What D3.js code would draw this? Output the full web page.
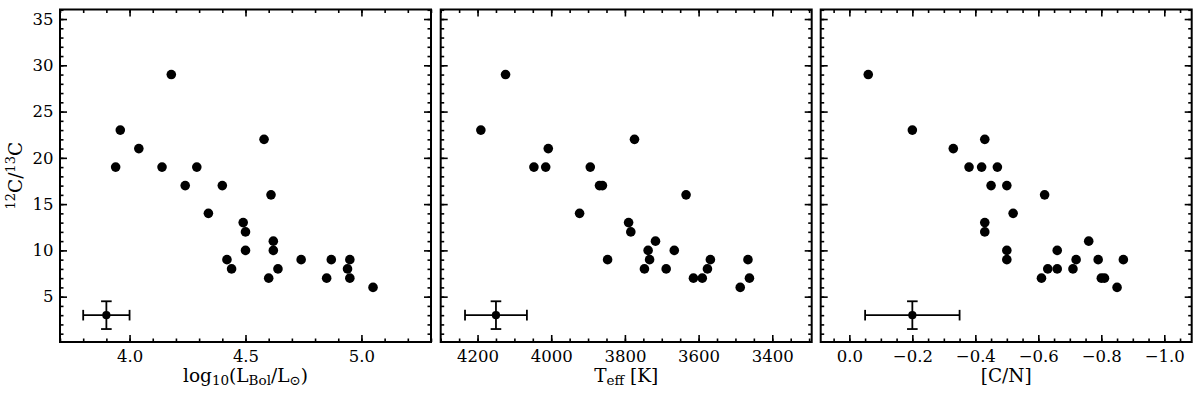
<!DOCTYPE html>
<html>
<head>
<meta charset="utf-8">
<script src="https://cdn.jsdelivr.net/npm/d3@7"></script>
<style>
body { margin: 0; background: #fff; }
text { font-family: "DejaVu Serif", serif; fill: #000; }
</style>
</head>
<body>
<svg id="chart" width="1200" height="393"></svg>
<script>
// values
const lumLog = [3.94, 3.96, 4.04, 4.14, 4.18, 4.24, 4.29, 4.34, 4.40, 4.42, 4.44, 4.49, 4.50, 4.50,
    4.58, 4.60, 4.61, 4.62, 4.62, 4.64, 4.74, 4.85, 4.87, 4.94, 4.95, 4.95, 5.05];
const lumRatio = [19, 23, 21, 19, 29, 17, 19, 14, 17, 9, 8, 13, 12, 10, 22, 7, 16, 11, 10, 8, 9, 7, 9, 8, 9, 7, 6];

const teff = [4191, 4124, 4047, 4015, 4008, 3923, 3894, 3869, 3861, 3847, 3790, 3784, 3774, 3747,
    3737, 3733, 3717, 3688, 3666, 3634, 3614, 3590, 3576, 3568, 3487, 3466, 3462];
const teffRatio = [23, 29, 19, 19, 21, 14, 19, 17, 17, 9, 13, 12, 22, 8, 10, 9, 11, 8, 10, 16, 7, 7, 8, 9, 6, 9, 7];

const cn = [-0.06, -0.20, -0.33, -0.38, -0.42, -0.43, -0.43, -0.43, -0.45, -0.47, -0.50, -0.50, -0.50, -0.52,
    -0.61, -0.62, -0.63, -0.66, -0.66, -0.71, -0.72, -0.76, -0.79, -0.80, -0.81, -0.85, -0.87];
const cnRatio = [29, 23, 21, 19, 19, 22, 13, 12, 17, 19, 17, 10, 9, 14, 7, 16, 8, 10, 8, 8, 9, 11, 9, 7, 7, 6, 9];

// typical error bar shown in each panel
const errCentre = [3.9, 4150, -0.2];
const errX = [0.1, 84, 0.15];
const errRatio = 3;
const errRatioSize = 1.5;

const yTicks = [5, 10, 15, 20, 25, 30, 35];
const lumTicks = [4.0, 4.5, 5.0];
const teffTicks = [4200, 4000, 3800, 3600, 3400];
const cnTicks = [0.0, -0.2, -0.4, -0.6, -0.8, -1.0];

const padTop = 9.5, padBottom = 342, pw = 371, ph = padBottom - padTop;
const lefts = [60, 440.7, 820.7];

const svg = d3.select("#chart");

const y = d3.scaleLinear().domain([0.1, 36.03]).range([ph, 0]);
const yMinor = d3.range(1, 37);

const panels = [
    {xs: lumLog, ys: lumRatio, domain: [3.7, 5.3], ticks: lumTicks,
     minor: d3.range(37, 54).map(d => d / 10), fmt: d3.format(".1f")},
    {xs: teff, ys: teffRatio, domain: [4300, 3293], ticks: teffTicks,
     minor: d3.range(3300, 4301, 50), fmt: d3.format("d")},
    {xs: cn, ys: cnRatio, domain: [0.091, -1.087], ticks: cnTicks,
     minor: d3.range(-21, 2).map(d => d * 0.05), fmt: d3.format(".1f")}
];

function styleAxis(g) {
    g.select(".domain").remove();
    g.selectAll(".tick line").attr("stroke", "#000").attr("stroke-width", 1.6);
    g.selectAll(".tick text").style("font-family", "DejaVu Serif").style("font-size", "16.5px").attr("fill", "#000");
}

panels.forEach((p, i) => {
    const g = svg.append("g").attr("transform", "translate(" + lefts[i] + "," + padTop + ")");
    const x = d3.scaleLinear().domain(p.domain).range([0, pw]);
    const minor = p.minor.filter(v => v >= d3.min(p.domain) && v <= d3.max(p.domain));

    // bottom
    g.append("g").attr("transform", "translate(0," + ph + ")")
        .call(d3.axisBottom(x).tickValues(minor).tickFormat("").tickSize(-3.5)).call(styleAxis);
    g.append("g").attr("transform", "translate(0," + ph + ")")
        .call(d3.axisBottom(x).tickValues(p.ticks).tickFormat(p.fmt).tickSize(-7).tickPadding(8)).call(styleAxis);
    // top
    g.append("g").call(d3.axisTop(x).tickValues(minor).tickFormat("").tickSize(-3.5)).call(styleAxis);
    g.append("g").call(d3.axisTop(x).tickValues(p.ticks).tickFormat("").tickSize(-7)).call(styleAxis);
    // left
    g.append("g").call(d3.axisLeft(y).tickValues(yMinor).tickFormat("").tickSize(-3.5)).call(styleAxis);
    g.append("g").call(d3.axisLeft(y).tickValues(yTicks).tickFormat(i === 0 ? d3.format("d") : "")
        .tickSize(-7).tickPadding(6.5)).call(styleAxis);
    // right
    g.append("g").attr("transform", "translate(" + pw + ",0)")
        .call(d3.axisRight(y).tickValues(yMinor).tickFormat("").tickSize(-3.5)).call(styleAxis);
    g.append("g").attr("transform", "translate(" + pw + ",0)")
        .call(d3.axisRight(y).tickValues(yTicks).tickFormat("").tickSize(-7)).call(styleAxis);

    g.append("rect").attr("width", pw).attr("height", ph)
        .attr("fill", "none").attr("stroke", "#000").attr("stroke-width", 2);

    g.selectAll(".dot")
        .data(p.xs.map((v, k) => [v, p.ys[k]]))
        .enter().append("circle")
        .attr("class", "dot")
        .attr("cx", d => x(d[0]))
        .attr("cy", d => y(d[1]))
        .attr("r", 4.8)
        .attr("fill", "#000");

    // error bar
    const c = errCentre[i], e = errX[i];
    const eb = g.append("g").attr("stroke", "#000").attr("stroke-width", 1.8);
    const x0 = x(c - e), x1 = x(c + e), cx = x(c), cy = y(errRatio);
    const y0 = y(errRatio - errRatioSize), y1 = y(errRatio + errRatioSize);
    eb.append("line").attr("x1", x0).attr("x2", x1).attr("y1", cy).attr("y2", cy);
    eb.append("line").attr("x1", cx).attr("x2", cx).attr("y1", y0).attr("y2", y1);
    [x0, x1].forEach(v => eb.append("line").attr("x1", v).attr("x2", v).attr("y1", cy - 5.3).attr("y2", cy + 5.3));
    [y0, y1].forEach(v => eb.append("line").attr("x1", cx - 5.3).attr("x2", cx + 5.3).attr("y1", v).attr("y2", v));
    g.append("circle").attr("cx", cx).attr("cy", cy).attr("r", 4.1).attr("fill", "#000");
});

// axis titles
function title(xc, parts) {
    const t = svg.append("text").attr("x", xc).attr("y", 381.5)
        .attr("text-anchor", "middle").style("font-size", "18.5px");
    let shift = 0;
    parts.forEach(([s, sub]) => {
        const want = sub ? 3.5 : 0;
        t.append("tspan").attr("dy", want - shift)
            .style("font-size", sub ? "13.5px" : "18.5px").text(s);
        shift = want;
    });
}
title(lefts[0] + pw / 2, [["log"], ["10", 1], ["(L"], ["Bol", 1], ["/L"], ["\u2299", 1], [")"]]);
title(lefts[1] + pw / 2, [["T"], ["eff", 1], [" [K]"]]);
title(lefts[2] + pw / 2, [["[C/N]"]]);

const yl = svg.append("text")
    .attr("transform", "translate(21.5," + (padTop + ph / 2) + ") rotate(-90)")
    .attr("text-anchor", "middle").style("font-size", "18.5px");
yl.append("tspan").attr("dy", -6.5).style("font-size", "13px").text("12");
yl.append("tspan").attr("dy", 6.5).text("C/");
yl.append("tspan").attr("dy", -6.5).style("font-size", "13px").text("13");
yl.append("tspan").attr("dy", 6.5).text("C");
</script>
</body>
</html>
